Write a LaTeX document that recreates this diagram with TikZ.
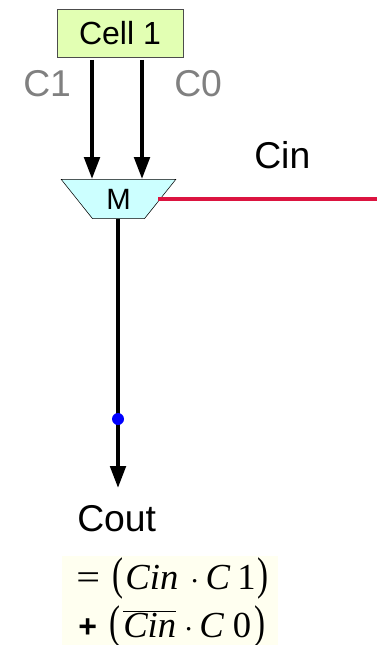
\documentclass[tikz,border=0pt]{standalone}
\usepackage{fontspec}
\usepackage{graphicx}
\setmainfont{Liberation Sans}
\setsansfont{Liberation Sans}
\newfontfamily\mathserif{Liberation Serif}
\usetikzlibrary{arrows.meta,shapes.geometric}

\definecolor{cellgreen}{HTML}{E2FFB3}
\definecolor{muxcyan}{HTML}{CCFFFF}
\definecolor{cinred}{HTML}{DC1440}
\definecolor{eqyellow}{HTML}{FFFFF0}

\newcommand{\tallparen}[1]{\scalebox{0.9}[1.25]{\mathserif #1}}

\tikzset{
    cellbox/.style={draw=black!70, fill=cellgreen, minimum width=94.5pt, minimum height=36pt, inner sep=0pt, font=\fontsize{24}{24}\selectfont},
    muxbox/.style={draw=black, fill=muxcyan, trapezium, shape border rotate=180, trapezium stretches=true, trapezium angle=53.8, minimum width=86pt, minimum height=29.5pt, inner sep=0pt, font=\fontsize{22}{22}\selectfont},
    wire/.style={line width=3pt, -{Triangle[length=16.5pt, width=11.5pt]}},
    redwire/.style={line width=2.7pt, cinred},
    graylabel/.style={anchor=base west, inner sep=0pt, text=black!50, font=\fontsize{28}{28}\selectfont},
    biglabel/.style={anchor=base west, inner sep=0pt, font=\fontsize{28}{28}\selectfont},
    eqline/.style={anchor=base west, inner sep=0pt, font=\mathserif\fontsize{27.5}{27.5}\selectfont},
    bluedot/.style={circle, fill=blue, minimum size=9pt, inner sep=0pt},
}

\begin{document}
\begin{tikzpicture}[x=0.75pt, y=-0.75pt]
    \useasboundingbox (0, 0) rectangle (377, 645);
    % Blocks:
    \fill[eqyellow] (62, 556) rectangle (278, 645);
    \node[cellbox](Cell) at (120, 33){Cell 1};
    \node[muxbox](Mux) at (118.5, 199){M};
    % Ends of the wires:
    \coordinate (C1start) at (92, 60);
    \coordinate (C0start) at (142, 60);
    \coordinate (Cinstart) at (158, 199);
    \coordinate (Cinend) at (377, 199);
    \coordinate (Coutend) at (118, 488);
    % Wires:
    \draw[redwire] (Cinstart) -- (Cinend);
    \draw[wire] (C1start) -- (C1start |- Mux.north);
    \draw[wire] (C0start) -- (C0start |- Mux.north);
    \draw[wire] (Mux.south -| Coutend) -- (Coutend);
    \node[bluedot](Dot) at (118, 419){};
    % Labels:
    \node[graylabel](C1) at (23, 97){C1};
    \node[graylabel](C0) at (174, 97){C0};
    \node[biglabel](Cin) at (254, 169){Cin};
    \node[biglabel](Cout) at (77, 531){Cout};
    \node[eqline](EqOne) at (76, 589){\scalebox{1.15}[1]{=}\hspace{9pt}\tallparen{(}\hspace{1.75pt}\textit{Cin}\hspace{9pt}$\cdot$\hspace{4.5pt}\textit{C}\hspace{5.25pt}1\hspace{1pt}\tallparen{)}};
    \node[eqline](EqTwo) at (78, 637){{\sffamily\bfseries\fontsize{24}{24}\selectfont +}\hspace{9.5pt}\tallparen{(}\hspace{2pt}$\overline{\hbox{\mathserif\fontsize{27.5}{27.5}\selectfont\itshape Cin}}$\hspace{6pt}$\cdot$\hspace{4.5pt}\textit{C}\hspace{6.5pt}0\hspace{2.5pt}\tallparen{)}};
\end{tikzpicture}
\end{document}
